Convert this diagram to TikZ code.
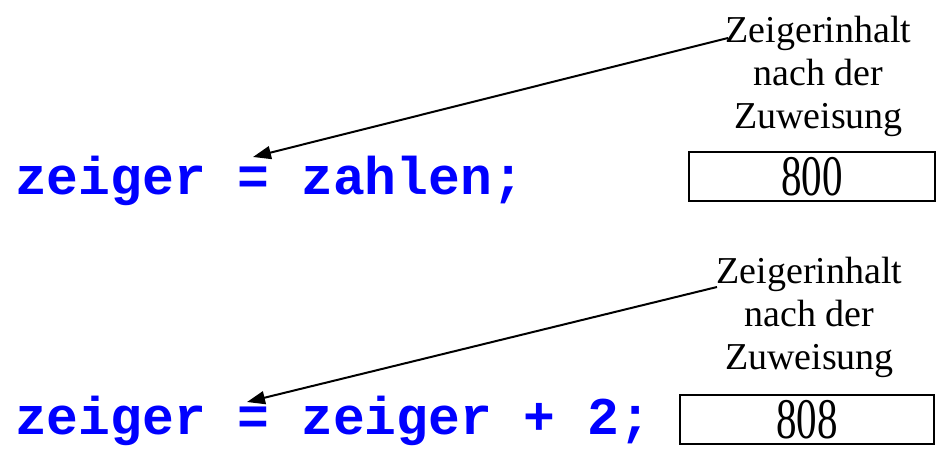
\documentclass[tikz,border=0pt]{standalone}
\usepackage{fontspec}
\setmainfont{Liberation Serif}
\setmonofont{Liberation Mono}
\usetikzlibrary{arrows.meta,positioning}

\begin{document}
\begin{tikzpicture}[x=1pt,y=1pt,
  code/.style={anchor=base west,inner sep=0pt,text=blue,font=\fontsize{53}{60}\selectfont\ttfamily\bfseries},
  note/.style={align=center,inner sep=0pt,font=\fontsize{38}{43}\selectfont},
  valbox/.style={draw,line width=1.5pt,minimum height=49pt,inner sep=0pt,font=\fontsize{41}{43}\selectfont},
  >={Triangle[length=18pt,width=13pt]}]
  \useasboundingbox (0,0) rectangle (937,449);
  % first assignment
  \node[code] (asgA) at (15,254) {zeiger = zahlen;};
  \node[note] (noteA) at (818.5,373) {Zeigerinhalt\\ nach der\\ Zuweisung};
  \node[valbox,minimum width=246pt] (valA) at (812,272.5) {\scalebox{1}[1.4]{800}};
  \coordinate (tailA) at (728,411);
  \coordinate (tipA) at (253,292);
  \draw[->,line width=2pt] (tailA) -- (tipA);
  % second assignment
  \node[code] (asgB) at (15,14) {zeiger = zeiger + 2;};
  \node[note] (noteB) at (809.5,132) {Zeigerinhalt\\ nach der\\ Zuweisung};
  \node[valbox,minimum width=254pt] (valB) at (807,29.5) {\scalebox{1}[1.4]{808}};
  \coordinate (tailB) at (717,162);
  \coordinate (tipB) at (247,47);
  \draw[->,line width=2pt] (tailB) -- (tipB);
\end{tikzpicture}
\end{document}
